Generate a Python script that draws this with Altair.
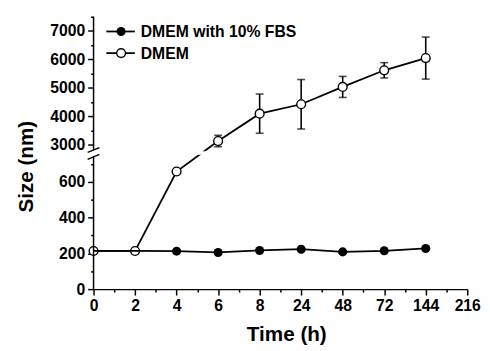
import altair as alt
import pandas as pd

# ---- data ----
time_labels = ["0", "2", "4", "6", "8", "24", "48", "72", "144", "216"]
times = [0, 2, 4, 6, 8, 24, 48, 72, 144]
fbs = [213, 213, 212, 205, 216, 223, 208, 214, 227]          # DMEM with 10% FBS
dmem = [213, 213, 657, 3125, 4090, 4420, 5030, 5615, 6045]     # DMEM
dmem_err = [0, 0, 0, 200, 690, 870, 370, 270, 740]

lower_ticks = [0, 200, 400, 600]
lower_minor = [100, 300, 500, 700]
upper_ticks = [3000, 4000, 5000, 6000, 7000]
upper_minor = [3500, 4500, 5500, 6500, 7500]

# broken-axis geometry (value space)
LOW_TOP = 740      # top of lower segment
UP_T0 = 780        # where upper segment starts in transformed units
UP_BOT = 2830      # value at bottom of upper segment
R = 0.1587         # compression of upper segment
UP_TOP = 7500


def tr(v):
    return v if v <= LOW_TOP else UP_T0 + (v - UP_BOT) * R


YMAX = tr(UP_TOP)
idx = list(range(len(times)))

df = pd.DataFrame({"idx": idx, "fbs": fbs, "dmem": dmem, "err": dmem_err})
expr = lambda f: f"{f} <= {LOW_TOP} ? {f} : {UP_T0} + ({f} - {UP_BOT}) * {R}"
base = alt.Chart(df).transform_calculate(
    lo="datum.dmem - datum.err", hi="datum.dmem + datum.err"
).transform_calculate(
    tF=expr("datum.fbs"), tD=expr("datum.dmem"),
    tLo=expr("datum.lo"), tHi=expr("datum.hi"),
)

FONT = "Liberation Sans"
xscale = alt.Scale(domain=[0, 9], nice=False, zero=False)
yscale = alt.Scale(domain=[0, YMAX], nice=False, zero=False)

major_y = lower_ticks + [tr(v) for v in upper_ticks]
minor_y = lower_minor + [tr(v) for v in upper_minor]

label_expr_y = (f"datum.value < {LOW_TOP + 20} ? format(datum.value, 'd') : "
                f"format(round(({UP_BOT} + (datum.value - {UP_T0}) / {R}) / 100) * 100, 'd')")
label_expr_x = "[" + ",".join(f"'{s}'" for s in time_labels) + "][round(datum.value)]"

x_major = alt.X("idx:Q", scale=xscale, axis=alt.Axis(
    values=list(range(10)), labelExpr=label_expr_x, title="Time (h)",
    titlePadding=10, titleFontSize=21, titleX=196))
y_major = alt.Y("tD:Q", scale=yscale, axis=alt.Axis(
    values=major_y, labelExpr=label_expr_y, title="Size (nm)", domain=False,
    titlePadding=13, titleFontSize=21, titleY=152, orient="left"))

dmem_line = base.mark_line(color="black", strokeWidth=1.8).encode(x=x_major, y=y_major)

# minor tick axes
minor_axes = base.mark_point(opacity=0).encode(
    x=alt.X("idx:Q", scale=xscale, axis=alt.Axis(
        values=[i + 0.5 for i in range(9)], labels=False, title=None, domain=False,
        tickSize=3, orient="bottom")),
    y=alt.Y("tD:Q", scale=yscale, axis=alt.Axis(
        values=minor_y, labels=False, title=None, domain=False, tickSize=3,
        orient="left")),
)

x_plain = alt.X("idx:Q", scale=xscale, axis=None)

err_rule = base.mark_rule(color="black", strokeWidth=1.6).encode(
    x=x_plain, y=alt.Y("tLo:Q", scale=yscale, axis=None), y2="tHi:Q")
cap_lo = base.mark_tick(color="black", orient="horizontal", size=8, thickness=1.6).encode(
    x=x_plain, y=alt.Y("tLo:Q", scale=yscale, axis=None))
cap_hi = base.mark_tick(color="black", orient="horizontal", size=8, thickness=1.6).encode(
    x=x_plain, y=alt.Y("tHi:Q", scale=yscale, axis=None))

fbs_pts = base.mark_point(shape="circle", filled=True, color="black", size=85, opacity=1).encode(
    x=x_plain, y=alt.Y("tF:Q", scale=yscale, axis=None))
dmem_pts = base.mark_point(shape="circle", filled=True, fill="white", stroke="black",
                           strokeWidth=1.4, size=80, opacity=1).encode(
    x=x_plain, y=alt.Y("tD:Q", scale=yscale, axis=None))
fbs_line = base.mark_line(color="black", strokeWidth=1.8).encode(
    x=x_plain, y=alt.Y("tF:Q", scale=yscale, axis=None))

# white gap where the line crosses the axis break
gap = alt.Chart(pd.DataFrame({"a": [0]})).mark_rect(color="white").encode(
    x=alt.value(3), x2=alt.value(380),
    y=alt.Y(datum=LOW_TOP + 10, scale=yscale, axis=None), y2=alt.Y2(datum=UP_T0 - 10))

one = pd.DataFrame({"a": [0]})
ax_low = alt.Chart(one).mark_rule(color="black", strokeWidth=1.5).encode(
    x=alt.value(0), y=alt.Y(datum=0, scale=yscale, axis=None), y2=alt.Y2(datum=LOW_TOP))
ax_up = alt.Chart(one).mark_rule(color="black", strokeWidth=1.5).encode(
    x=alt.value(0), y=alt.Y(datum=UP_T0, scale=yscale, axis=None), y2=alt.Y2(datum=YMAX))
slash1 = alt.Chart(one).mark_rule(color="black", strokeWidth=1.4).encode(
    x=alt.value(-6), x2=alt.value(6), y=alt.value(138), y2=alt.value(133))
slash2 = alt.Chart(one).mark_rule(color="black", strokeWidth=1.4).encode(
    x=alt.value(-6), x2=alt.value(6), y=alt.value(145), y2=alt.value(140))

# legend
leg_names = ["DMEM with 10% FBS", "DMEM"]
leg = []
for i, name in enumerate(leg_names):
    yy = 15 + 22 * i
    leg.append(alt.Chart(one).mark_rule(color="black", strokeWidth=1.8).encode(
        x=alt.value(13), x2=alt.value(42), y=alt.value(yy)))
    if i == 0:
        leg.append(alt.Chart(one).mark_point(shape="circle", filled=True, color="black",
                                             size=85, opacity=1).encode(
            x=alt.value(28), y=alt.value(yy)))
    else:
        leg.append(alt.Chart(one).mark_point(shape="circle", filled=True, fill="white",
                                             stroke="black", strokeWidth=1.4, size=80,
                                             opacity=1).encode(
            x=alt.value(28), y=alt.value(yy)))
    leg.append(alt.Chart(one).mark_text(text=name, font=FONT, fontWeight="bold", fontSize=16,
                                        align="left", baseline="middle", color="black").encode(
        x=alt.value(48), y=alt.value(yy + 1)))

chart = alt.layer(
    dmem_line, minor_axes, err_rule, cap_lo, cap_hi, fbs_pts, dmem_pts, fbs_line,
    gap, ax_low, ax_up, slash1, slash2, *leg
).resolve_axis(x="independent", y="independent").properties(
    width=380, height=277,
    autosize=alt.AutoSizeParams(type="none"),
    padding={"left": 87, "top": 6, "right": 15, "bottom": 58},
).configure_view(stroke=None).configure_axis(
    labelFont=FONT, labelFontWeight="bold", labelFontSize=16, labelColor="black",
    titleFont=FONT, titleFontWeight="bold", titleColor="black",
    tickColor="black", tickWidth=1.5, tickSize=6, domainColor="black", domainWidth=1.5,
    grid=False, labelPadding=3, labelFlush=False, labelOverlap=False,
)

chart.save("out.html", embed_options={"renderer": "svg", "actions": False})
